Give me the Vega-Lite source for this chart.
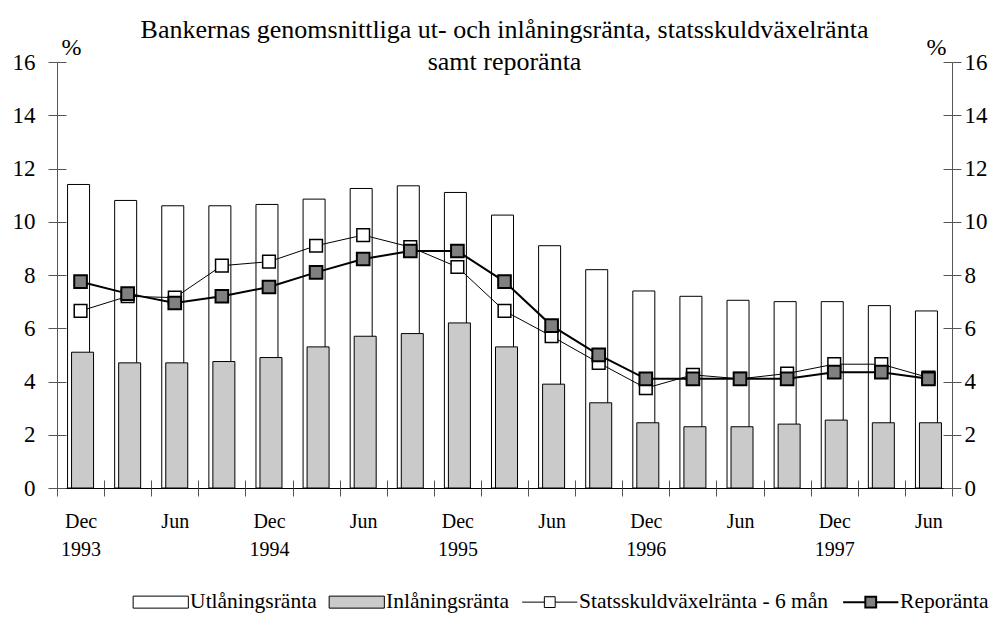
{
  "$schema": "https://vega.github.io/schema/vega-lite/v6.json",
  "width": 895,
  "height": 426,
  "autosize": "none",
  "padding": {"left": 57, "top": 62, "right": 51, "bottom": 144},
  "background": "white",
  "config": {
    "view": {"stroke": null},
    "font": "Liberation Serif",
    "axis": {"grid": false, "labelFont": "Liberation Serif", "titleFont": "Liberation Serif", "labelColor": "black", "titleColor": "black", "domainColor": "#555555", "tickColor": "#555555", "labelFontSize": 23, "titleFontSize": 24, "titleFontWeight": "normal"}
  },
  "title": {
    "text": ["Bankernas genomsnittliga ut- och inlåningsränta, statsskuldväxelränta", "samt reporänta"],
    "font": "Liberation Serif",
    "fontSize": 26,
    "fontWeight": "normal",
    "color": "black",
    "anchor": "middle",
    "lineHeight": 32,
    "offset": -40
  },
  "data": {
    "values": [
      {"q": "Dec 1993", "utl": 11.4, "inl": 5.1, "stat": 6.65, "repo": 7.75},
      {"q": "Mar 1994", "utl": 10.8, "inl": 4.7, "stat": 7.2, "repo": 7.3},
      {"q": "Jun 1994", "utl": 10.6, "inl": 4.7, "stat": 7.15, "repo": 6.95},
      {"q": "Sep 1994", "utl": 10.6, "inl": 4.75, "stat": 8.35, "repo": 7.2},
      {"q": "Dec 1994", "utl": 10.65, "inl": 4.9, "stat": 8.5, "repo": 7.55},
      {"q": "Mar 1995", "utl": 10.85, "inl": 5.3, "stat": 9.1, "repo": 8.1},
      {"q": "Jun 1995", "utl": 11.25, "inl": 5.7, "stat": 9.5, "repo": 8.6},
      {"q": "Sep 1995", "utl": 11.35, "inl": 5.8, "stat": 9.05, "repo": 8.9},
      {"q": "Dec 1995", "utl": 11.1, "inl": 6.2, "stat": 8.3, "repo": 8.9},
      {"q": "Mar 1996", "utl": 10.25, "inl": 5.3, "stat": 6.65, "repo": 7.75},
      {"q": "Jun 1996", "utl": 9.1, "inl": 3.9, "stat": 5.7, "repo": 6.1},
      {"q": "Sep 1996", "utl": 8.2, "inl": 3.2, "stat": 4.7, "repo": 5.0},
      {"q": "Dec 1996", "utl": 7.4, "inl": 2.45, "stat": 3.75, "repo": 4.1},
      {"q": "Mar 1997", "utl": 7.2, "inl": 2.3, "stat": 4.25, "repo": 4.1},
      {"q": "Jun 1997", "utl": 7.05, "inl": 2.3, "stat": 4.1, "repo": 4.1},
      {"q": "Sep 1997", "utl": 7.0, "inl": 2.4, "stat": 4.3, "repo": 4.1},
      {"q": "Dec 1997", "utl": 7.0, "inl": 2.55, "stat": 4.65, "repo": 4.35},
      {"q": "Mar 1998", "utl": 6.85, "inl": 2.45, "stat": 4.65, "repo": 4.35},
      {"q": "Jun 1998", "utl": 6.65, "inl": 2.45, "stat": 4.15, "repo": 4.1}
    ]
  },
  "resolve": {"axis": {"x": "independent", "y": "independent"}},
  "layer": [
    {
      "mark": {"type": "bar", "width": 22, "xOffset": -2, "stroke": "black", "strokeWidth": 1},
      "encoding": {
        "x": {"field": "q", "type": "ordinal", "sort": null,
              "scale": {"paddingInner": 0, "paddingOuter": 0},
              "axis": {"orient": "bottom", "title": null, "tickBand": "extent", "tickSize": 8, "labelAngle": 0, "labelFont": "Liberation Serif", "labelFontSize": 20, "labelPadding": 15, "labelLineHeight": 28, "labelBaseline": "top", "domainColor": "black", "tickColor": "#555555",
                       "labelExpr": "isString(datum.value) ? (test(/^(Mar|Sep)/, datum.value) ? '' : (test(/^Jun/, datum.value) ? 'Jun' : split(datum.value, ' '))) : ''"}},
        "y": {"field": "utl", "type": "quantitative",
              "scale": {"domain": [0, 16], "nice": false},
              "axis": {"orient": "left", "values": [0, 2, 4, 6, 8, 10, 12, 14, 16], "tickSize": 9, "labelPadding": 13, "labelFont": "Liberation Serif", "title": "%", "titleFont": "Liberation Serif", "titleAngle": 0, "titleAlign": "left", "titleBaseline": "alphabetic", "titleX": 4, "titleY": -8}},
        "fill": {"datum": "Utlåningsränta", "type": "nominal",
                 "scale": {"domain": ["Utlåningsränta", "Inlåningsränta", "Statsskuldväxelränta - 6 mån", "Reporänta"], "range": ["white", "#cacaca", "white", "#808080"]},
                 "legend": {"orient": "none", "legendX": 93, "legendY": 529, "direction": "horizontal", "title": null,
                            "labelFont": "Liberation Serif", "labelFontSize": 21.5, "labelColor": "black", "labelOffset": 18.6, "columnPadding": 10, "labelLimit": 500,
                            "symbolSize": 576, "symbolStrokeColor": "black", "symbolStrokeWidth": 1, "symbolOpacity": 1,
                            "encode": {"symbols": {"update": {
                              "shape": {"signal": "indexof(['Utlåningsränta','Inlåningsränta'], datum.value) >= 0 ? 'M-2.3,-0.5H2.3V0.5H-2.3Z' : 'M-2.3,0H-0.45M0.45,0H2.3M-0.45,-0.45H0.45V0.45H-0.45Z'"},
                              "strokeWidth": {"signal": "datum.value == 'Reporänta' ? 2 : 1"},
                              "stroke": {"value": "black"}
                            }}}}}
      }
    },
    {
      "mark": {"type": "bar", "width": 22, "xOffset": 2, "stroke": "black", "strokeWidth": 1},
      "encoding": {
        "x": {"field": "q", "type": "ordinal", "sort": null,
              "axis": {"orient": "bottom", "title": null, "tickBand": "extent", "tickSize": -8, "labels": false, "domain": false, "tickColor": "#555555"}},
        "y": {"field": "inl", "type": "quantitative",
              "axis": {"orient": "right", "values": [0, 2, 4, 6, 8, 10, 12, 14, 16], "tickSize": 9, "labelPadding": 3, "labelFont": "Liberation Serif", "title": "%", "titleFont": "Liberation Serif", "titleAngle": 0, "titleAlign": "right", "titleBaseline": "alphabetic", "titleX": -6, "titleY": -8}},
        "fill": {"datum": "Inlåningsränta", "type": "nominal"}
      }
    },
    {
      "mark": {"type": "line", "color": "black", "strokeWidth": 1},
      "encoding": {
        "x": {"field": "q", "type": "ordinal", "sort": null, "axis": null},
        "y": {"field": "stat", "type": "quantitative",
              "axis": {"orient": "left", "values": [0, 2, 4, 6, 8, 10, 12, 14, 16], "tickSize": -9, "labels": false, "domain": false, "title": null}}
      }
    },
    {
      "mark": {"type": "line", "color": "black", "strokeWidth": 2},
      "encoding": {
        "x": {"field": "q", "type": "ordinal", "sort": null, "axis": null},
        "y": {"field": "repo", "type": "quantitative",
              "axis": {"orient": "right", "values": [0, 2, 4, 6, 8, 10, 12, 14, 16], "tickSize": -9, "labels": false, "domain": false, "title": null}}
      }
    },
    {
      "mark": {"type": "point", "shape": "square", "filled": true, "size": 160, "stroke": "black", "strokeWidth": 1.5, "opacity": 1},
      "encoding": {
        "x": {"field": "q", "type": "ordinal", "sort": null, "axis": null},
        "y": {"field": "stat", "type": "quantitative", "axis": null},
        "fill": {"datum": "Statsskuldväxelränta - 6 mån", "type": "nominal"}
      }
    },
    {
      "mark": {"type": "point", "shape": "square", "filled": true, "size": 160, "stroke": "black", "strokeWidth": 2, "opacity": 1},
      "encoding": {
        "x": {"field": "q", "type": "ordinal", "sort": null, "axis": null},
        "y": {"field": "repo", "type": "quantitative", "axis": null},
        "fill": {"datum": "Reporänta", "type": "nominal"}
      }
    }
  ]
}
